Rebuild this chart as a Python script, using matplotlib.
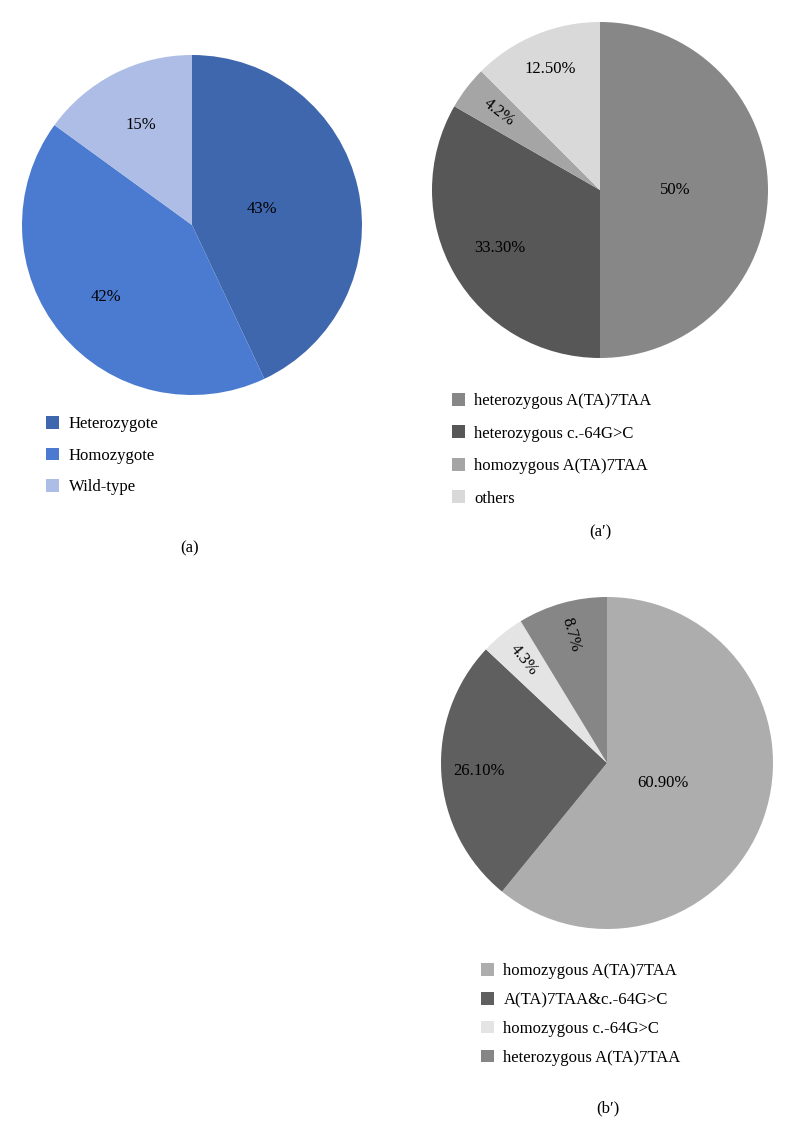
import numpy as np
import matplotlib
matplotlib.use("Agg")
from matplotlib import pyplot as plt

plt.rcParams['font.family'] = ['Liberation Serif', 'DejaVu Serif']

# (a) genotype distribution
a_names = ['Heterozygote', 'Homozygote', 'Wild-type']
a_values = [43, 42, 15]
a_labels = ['43%', '42%', '15%']

# (a') subgroups
a2_names = ['heterozygous A(TA)7TAA', 'heterozygous c.-64G>C',
            'homozygous A(TA)7TAA', 'others']
a2_values = [50, 33.3, 4.2, 12.5]
a2_labels = ['50%', '33.30%', '4.2%', '12.50%']

# (b') subgroups
b2_names = ['homozygous A(TA)7TAA', 'A(TA)7TAA&c.-64G>C',
            'homozygous c.-64G>C', 'heterozygous A(TA)7TAA']
b2_values = [60.9, 26.1, 4.3, 8.7]
b2_labels = ['60.90%', '26.10%', '4.3%', '8.7%']

W, H = 791, 1128
fig = plt.figure(figsize=(W / 100, H / 100), dpi=100)
fig.patch.set_facecolor('white')


def draw_pie(cx, cy, r, values, labels, names, colors, dists, rotate,
             leg_x, leg_y, spacing, caption, cap_x, cap_y):
    ax = fig.add_axes([(cx - r) / W, 1 - (cy + r) / H, 2 * r / W, 2 * r / H])
    wedges, _ = ax.pie(values, colors=colors, startangle=90, counterclock=False,
                       radius=1, wedgeprops=dict(linewidth=0))
    ax.set_xlim(-1, 1)
    ax.set_ylim(-1, 1)
    for w, lab, d, rt in zip(wedges, labels, dists, rotate):
        mid = (w.theta1 + w.theta2) / 2
        ang = np.deg2rad(mid)
        ax.text(d * np.cos(ang), d * np.sin(ang), lab, ha='center', va='center',
                fontsize=12, rotation=(mid - 180) if rt else 0,
                rotation_mode='anchor')
    ax.legend(wedges, names, loc='upper left',
              bbox_to_anchor=(leg_x / W, 1 - leg_y / H),
              bbox_transform=fig.transFigure, frameon=False, fontsize=12,
              handlelength=0.8, handleheight=0.8, handletextpad=0.55,
              labelspacing=spacing, borderpad=0, borderaxespad=0)
    fig.text(cap_x / W, 1 - cap_y / H, caption, ha='center', va='center',
             fontsize=12)


draw_pie(192, 225, 170, a_values, a_labels, a_names,
         ['#3F67AE', '#4A7BD0', '#AEBDE6'],
         [0.42, 0.66, 0.66], [False, False, False],
         46, 416, 0.92, '(a)', 190, 548)

draw_pie(600, 190, 168, a2_values, a2_labels, a2_names,
         ['#878787', '#575757', '#A5A5A5', '#D9D9D9'],
         [0.45, 0.69, 0.76, 0.78], [False, False, True, False],
         452, 393, 0.98, '(a\u2032)', 600, 532)

draw_pie(607, 763, 166, b2_values, b2_labels, b2_names,
         ['#ADADAD', '#5F5F5F', '#E4E4E4', '#868686'],
         [0.36, 0.77, 0.8, 0.8], [False, False, True, True],
         481, 963, 0.76, '(b\u2032)', 608, 1108)

fig.savefig('out.png', dpi=100, facecolor='white')
